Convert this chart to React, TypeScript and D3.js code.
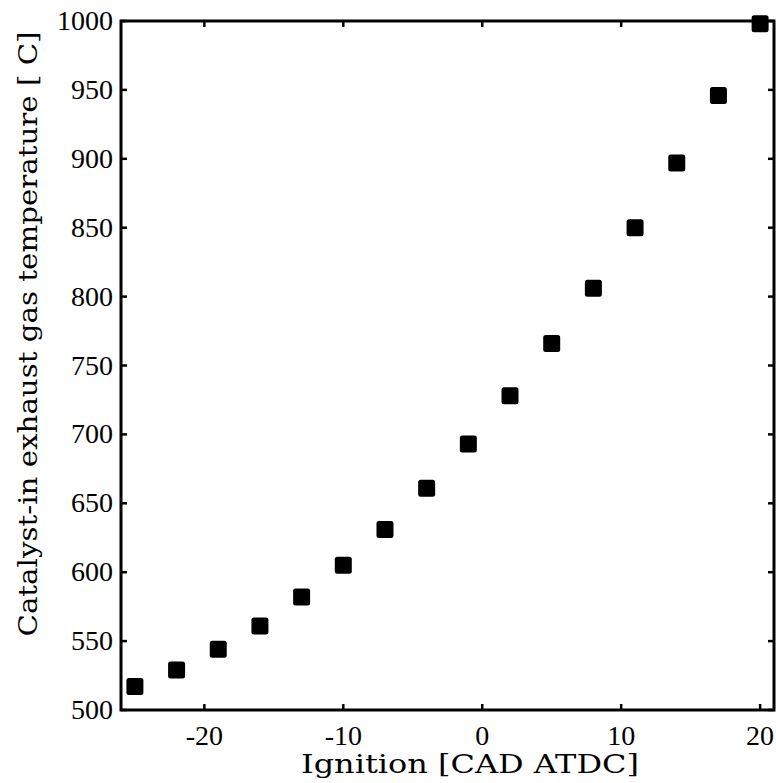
import React, { useEffect, useRef } from "react";
import * as d3 from "d3";

const ignition = [-25, -22, -19, -16, -13, -10, -7, -4, -1, 2, 5, 8, 11, 14, 17, 20];
const temperature = [517, 529, 544, 561, 582, 605, 631, 661, 693, 728, 766, 806, 850, 897, 946, 998];
const xTicks = [-20, -10, 0, 10, 20];
const yTicks = [500, 550, 600, 650, 700, 750, 800, 850, 900, 950, 1000];
const xLabel = "Ignition [CAD ATDC]";
const yLabel = "Catalyst-in exhaust gas temperature [ C]";

const W = 776;
const H = 783;
const M = { left: 121, right: 774, top: 21, bottom: 710 };
const FONT = "'Liberation Serif', 'DejaVu Serif', serif";
const LFONT = "'DejaVu Serif', serif";

export default function App() {
  const ref = useRef<SVGSVGElement>(null);
  useEffect(() => {
    const svg = d3.select(ref.current);
    svg.selectAll("*").remove();
    const x = d3.scaleLinear().domain([-26, 21]).range([M.left, M.right]);
    const y = d3.scaleLinear().domain([500, 1000]).range([M.bottom, M.top]);

    const g = svg.append("g");
    const s = 17;
    g.selectAll("rect.pt")
      .data(ignition.map((v, i) => [v, temperature[i]]))
      .join("rect")
      .attr("class", "pt")
      .attr("x", (d) => x(d[0]) - s / 2)
      .attr("y", (d) => y(d[1]) - s / 2)
      .attr("width", s)
      .attr("height", s)
      .attr("rx", 2.5)
      .attr("fill", "#000");

    g.append("rect")
      .attr("x", M.left)
      .attr("y", M.top)
      .attr("width", M.right - M.left)
      .attr("height", M.bottom - M.top)
      .attr("fill", "none")
      .attr("stroke", "#000")
      .attr("stroke-width", 3);

    const tl = 6;
    xTicks.forEach((t) => {
      g.append("line").attr("x1", x(t)).attr("x2", x(t)).attr("y1", M.bottom).attr("y2", M.bottom - tl).attr("stroke", "#000").attr("stroke-width", 2.5);
      g.append("line").attr("x1", x(t)).attr("x2", x(t)).attr("y1", M.top).attr("y2", M.top + tl).attr("stroke", "#000").attr("stroke-width", 2.5);
      g.append("text")
        .attr("x", x(t))
        .attr("y", 745)
        .attr("text-anchor", "middle")
        .attr("font-family", FONT)
        .attr("font-size", 28)
        .text(t);
    });
    yTicks.forEach((t) => {
      g.append("line").attr("x1", M.left).attr("x2", M.left + tl).attr("y1", y(t)).attr("y2", y(t)).attr("stroke", "#000").attr("stroke-width", 2.5);
      g.append("line").attr("x1", M.right).attr("x2", M.right - tl).attr("y1", y(t)).attr("y2", y(t)).attr("stroke", "#000").attr("stroke-width", 2.5);
      g.append("text")
        .attr("x", M.left - 8)
        .attr("y", y(t) + 9)
        .attr("text-anchor", "end")
        .attr("font-family", FONT)
        .attr("font-size", 28)
        .text(t);
    });

    g.append("text")
      .attr("x", 470)
      .attr("y", 773)
      .attr("text-anchor", "middle")
      .attr("font-family", LFONT)
      .attr("font-size", 26)
      .attr("textLength", 338)
      .attr("lengthAdjust", "spacingAndGlyphs")
      .text(xLabel);

    g.append("text")
      .attr("transform", `translate(37, 334) rotate(-90)`)
      .attr("text-anchor", "middle")
      .attr("font-family", LFONT)
      .attr("font-size", 26)
      .attr("textLength", 605)
      .attr("lengthAdjust", "spacingAndGlyphs")
      .text(yLabel);
  }, []);
  return (
    <svg
      ref={ref}
      width={W}
      height={H}
      style={{ position: "absolute", left: 0, top: 0, background: "#fff" }}
    />
  );
}
